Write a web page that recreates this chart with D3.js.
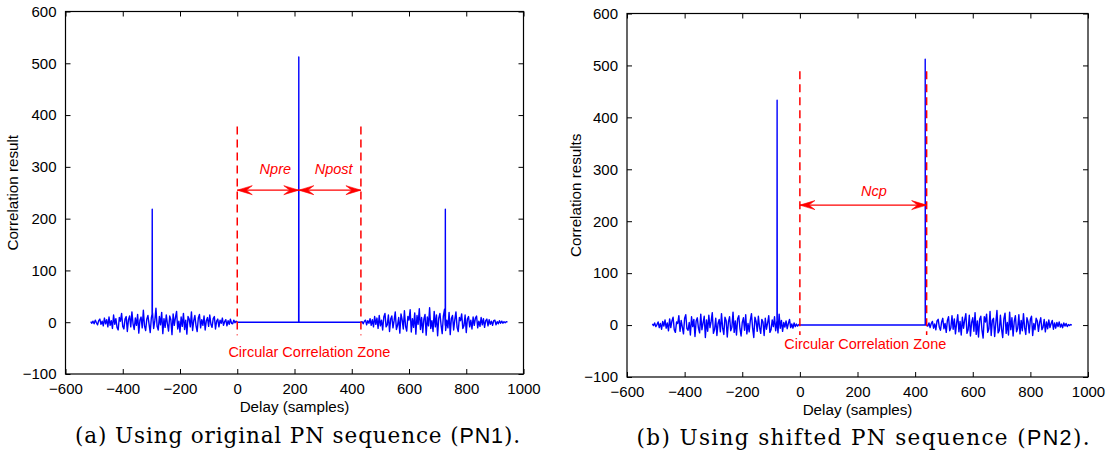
<!DOCTYPE html>
<html><head><meta charset="utf-8">
<script src="https://cdn.jsdelivr.net/npm/d3@7"></script>
<style>body{margin:0;background:#fff}svg{display:block}</style>
</head><body>
<svg id="c" width="1117" height="459"></svg>
<script>
// ---------------- data ----------------
const xTicks = [-600,-400,-200,0,200,400,600,800,1000];
const yTicks = [-100,0,100,200,300,400,500,600];
const noiseStep = 4;

// Panel (a): original PN sequence
const noiseA1Start = -512;
const noiseA1 = [1,-2,2,-3,4,-1,-5,3,6,-4,2,-7,8,-3,5,-9,
 10,-6,3,-12,14,-4,7,-10,-15,9,2,17,-8,-13,6,11,
 -18,5,12,-9,20,-3,-14,8,-6,15,-21,4,10,-11,23,-7,
 -16,6,13,-4,-20,9,18,-12,3,27,-8,-15,11,-5,19,-22,
 7,-10,14,-3,-17,12,5,-24,16,-6,9,21,-13,2,-19,10,
 -8,17,-14,4,-23,11,6,-9,20,-16,3,13,-7,-18,8,15,
 -11,5,-6,12,-15,3,9,-8,14,-4,-10,7,11,-13,2,6,
 -9,4,-2,8,-6,1,5,-7,3,-4,6,-2,-3,4,-1,2,0];
const flatA = [0, 432];
const noiseA2Start = 432;
const noiseA2 = [0,1,-3,2,4,-5,3,-2,7,-6,5,-9,11,-4,8,-12,
 13,-7,4,-15,10,17,-9,-5,14,-18,6,12,-11,3,20,-14,
 -6,9,-21,16,5,-13,22,-8,-17,11,4,24,-19,7,-10,18,
 -23,13,-4,26,-14,9,-20,6,15,-25,10,-7,28,-12,3,-18,
 21,-9,14,-26,8,17,-5,-22,12,25,-16,4,-11,19,-24,7,
 13,-15,5,20,-10,-18,9,3,16,-12,-7,14,-20,6,11,-9,
 4,-13,10,-6,8,12,-11,2,-8,9,-5,7,-10,3,6,-7,
 5,-4,2,-6,3,4,-5,1,-3,3,-2,2,-2,1,-1,1,0];
const spikeDelayA = [-297, 215, 727];
const spikeValueA = [218, 512, 218];
const zoneA = [0, 432];
const zoneTopA = 378, zoneBottomA = -25;
const arrowYA = 255;

// Panel (b): shifted PN sequence
const noiseB1Start = -512;
const noiseB1 = [2,-1,4,-3,1,6,-5,3,-8,7,-2,10,-6,4,-11,12,
 -5,8,15,-9,-14,6,3,18,-12,9,-4,-17,13,20,-7,-10,
 5,-19,16,-3,11,-22,8,14,-6,-15,21,-9,4,17,-24,10,
 -12,19,-5,7,24,-16,-8,13,-20,3,11,-13,22,-6,-18,15,
 9,-23,6,16,-11,-4,25,-14,8,-19,12,18,-7,-21,5,14,
 -10,20,-17,3,-13,9,22,-6,-24,15,7,-12,17,-4,-16,11,
 6,-20,13,-8,4,18,-14,-9,10,-3,16,-11,7,-15,21,-6,
 9,-12,5,-4,8,-7,3,11,-5,2,-6,4,-3,2,-2,1,0];
const flatB = [0, 435];
const noiseB2Start = 440;
const noiseB2 = [0,-2,4,-5,3,7,-6,2,-9,8,11,-4,-10,6,13,-7,
 3,-14,9,16,-11,-5,18,-8,12,-17,4,20,-13,7,-19,15,
 -6,10,22,-16,-9,19,-21,5,14,-12,24,-18,8,-23,11,17,
 -10,-25,16,6,21,-14,-7,26,-20,9,13,-22,4,28,-15,-11,
 19,-8,-24,12,23,-16,5,-19,25,-9,14,-21,7,18,-13,-6,
 20,-17,9,-11,22,-5,-18,14,6,-15,11,17,-20,3,-9,13,
 8,-12,5,14,-9,-4,11,-13,6,-7,10,-5,3,9,-8,4,
 -6,5,-3,6,-4,2,-5,4,-2,3,-3,1,-1,1,0];
const spikeDelayB = [-79, 435];
const spikeValueB = [433, 512];
const zoneB = [0, 440];
const zoneTopB = 489, zoneBottomB = -19;
const arrowYB = 231;

// ---------------- drawing ----------------
const svg = d3.select('#c');
const SANS = 'Liberation Sans, Arial, Helvetica, sans-serif';

function buildSeries(n1Start, n1, flat, n2Start, n2, sDelay, sVal) {
  let pts = [];
  n1.forEach((v,i)=>pts.push([n1Start+i*noiseStep, v]));
  pts.push([flat[0],0],[flat[1],0]);
  n2.forEach((v,i)=>pts.push([n2Start+i*noiseStep, v]));
  pts.sort((a,b)=>a[0]-b[0]);
  const base = d => {
    for (let i=1;i<pts.length;i++){
      if (pts[i][0] >= d) { const a=pts[i-1], b=pts[i];
        const t = b[0]===a[0]?0:(d-a[0])/(b[0]-a[0]); return a[1]+t*(b[1]-a[1]); }
    }
    return 0;
  };
  const extra = [];
  sDelay.forEach((d,i)=>{ const b=base(d);
    extra.push([d-0.5,b],[d,sVal[i]],[d+0.5,b]); });
  pts = pts.concat(extra).sort((a,b)=>a[0]-b[0]);
  return pts;
}

function arrowHead(g, x, y, dir) {
  const L = 15, W = 4.5, N = 9;
  const p = `M${x},${y} L${x-dir*L},${y-W} L${x-dir*N},${y} L${x-dir*L},${y+W} Z`;
  g.append('path').attr('d', p).attr('fill', '#f00').attr('stroke','#f00').attr('stroke-width',0.6);
}

function panel(cfg) {
  const x = d3.scaleLinear().domain([-600,1000]).range([cfg.x0, cfg.x1]);
  const y = d3.scaleLinear().domain([-100,600]).range([cfg.y1, cfg.y0]);
  const g = svg.append('g');

  const line = d3.line().x(d=>x(d[0])).y(d=>y(d[1]));
  g.append('path').datum(cfg.series).attr('d', line)
    .attr('fill','none').attr('stroke','#0000ff').attr('stroke-width',1.4)
    .attr('stroke-linejoin','round');

  cfg.zone.forEach(z=>{
    g.append('line').attr('x1',x(z)).attr('x2',x(z))
      .attr('y1',y(cfg.zoneTop)).attr('y2',y(cfg.zoneBottom))
      .attr('stroke','#f00').attr('stroke-width',1.5).attr('stroke-dasharray','8,5');
  });

  cfg.arrows.forEach(a=>{
    const xa = x(a[0]), xb = x(a[1]), ya = y(cfg.arrowY);
    g.append('line').attr('x1',xa).attr('x2',xb).attr('y1',ya).attr('y2',ya)
      .attr('stroke','#f00').attr('stroke-width',1.3);
    arrowHead(g, xa, ya, -1);
    arrowHead(g, xb, ya, 1);
  });

  cfg.labels.forEach(l=>{
    g.append('text').attr('x',x(l.x)).attr('y',y(l.y)).attr('text-anchor','middle')
      .attr('dominant-baseline','middle')
      .attr('font-family',SANS).attr('font-size',l.size).attr('fill','#f00')
      .attr('font-style',l.italic?'italic':'normal').text(l.text);
  });

  g.append('rect').attr('x',cfg.x0).attr('y',cfg.y0).attr('width',cfg.x1-cfg.x0)
    .attr('height',cfg.y1-cfg.y0).attr('fill','none').attr('stroke','#000').attr('stroke-width',1.2);

  const fmt = v => v<0 ? '\u2212'+Math.abs(v) : String(v);
  const axB = d3.axisBottom(x).tickValues(xTicks).tickSizeInner(-5).tickSizeOuter(0).tickPadding(9).tickFormat(fmt);
  const axT = d3.axisTop(x).tickValues(xTicks).tickSizeInner(-5).tickSizeOuter(0).tickFormat('');
  const axL = d3.axisLeft(y).tickValues(yTicks).tickSizeInner(-5).tickSizeOuter(0).tickPadding(9).tickFormat(fmt);
  const axR = d3.axisRight(y).tickValues(yTicks).tickSizeInner(-5).tickSizeOuter(0).tickFormat('');
  const style = s => { s.select('.domain').remove(); s.selectAll('line').attr('stroke','#000');
    s.selectAll('text').attr('font-family',SANS).attr('font-size',15).attr('fill','#000'); };
  g.append('g').attr('transform',`translate(0,${cfg.y1})`).call(axB).call(style);
  g.append('g').attr('transform',`translate(0,${cfg.y0})`).call(axT).call(style);
  g.append('g').attr('transform',`translate(${cfg.x0},0)`).call(axL).call(style);
  g.append('g').attr('transform',`translate(${cfg.x1},0)`).call(axR).call(style);

  g.append('text').attr('x',(cfg.x0+cfg.x1)/2).attr('y',cfg.xLabelY).attr('text-anchor','middle')
    .attr('font-family',SANS).attr('font-size',15.2).text('Delay (samples)');
  g.append('text').attr('transform',`translate(${cfg.yLabelX},${(cfg.y0+cfg.y1)/2}) rotate(-90)`)
    .attr('text-anchor','middle').attr('font-family',SANS).attr('font-size',15.2).text(cfg.yLabel);

  const cap = g.append('text').attr('x',cfg.capX).attr('y',cfg.capY).attr('text-anchor','middle')
    .attr('font-family','DejaVu Serif, Liberation Serif, serif').attr('font-size',21.5)
    .attr('textLength', cfg.capW).attr('lengthAdjust','spacing');
  cap.append('tspan').text(cfg.capPre);
  cap.append('tspan').attr('font-family',SANS).attr('font-size',21.5).text(cfg.capPN);
  cap.append('tspan').text(').');
}

panel({
  x0:65.5, x1:523.5, y0:11.5, y1:374,
  series: buildSeries(noiseA1Start, noiseA1, flatA, noiseA2Start, noiseA2, spikeDelayA, spikeValueA),
  zone: zoneA, zoneTop: zoneTopA, zoneBottom: zoneBottomA,
  arrowY: arrowYA, arrows: [[zoneA[0], spikeDelayA[1]], [spikeDelayA[1], zoneA[1]]],
  labels: [{x:133,y:293,text:'Npre',italic:true,size:14.5},
           {x:337,y:293,text:'Npost',italic:true,size:14.5},
           {x:252,y:-60,text:'Circular Correlation Zone',italic:false,size:14.5}],
  xLabelY: 412, yLabelX: 18, yLabel: 'Correlation result',
  capX: 297.5, capY: 443, capW: 445, capPre: '(a) Using original PN sequence (', capPN: 'PN1'
});

panel({
  x0:627, x1:1088, y0:13.5, y1:377,
  series: buildSeries(noiseB1Start, noiseB1, flatB, noiseB2Start, noiseB2, spikeDelayB, spikeValueB),
  zone: zoneB, zoneTop: zoneTopB, zoneBottom: zoneBottomB,
  arrowY: arrowYB, arrows: [[zoneB[0], zoneB[1]]],
  labels: [{x:257,y:256,text:'Ncp',italic:true,size:14.5},
           {x:227,y:-38,text:'Circular Correlation Zone',italic:false,size:14.5}],
  xLabelY: 415, yLabelX: 581, yLabel: 'Correlation results',
  capX: 863, capY: 445, capW: 453, capPre: '(b) Using shifted PN sequence (', capPN: 'PN2'
});
</script>
</body></html>
